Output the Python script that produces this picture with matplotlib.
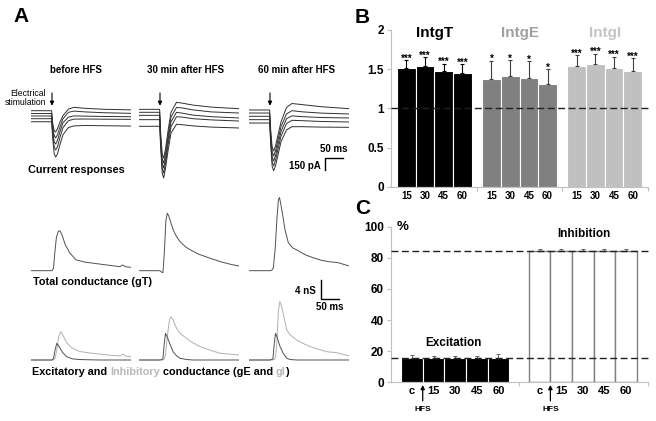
import numpy as np
import matplotlib.pyplot as plt

plt.rcParams['font.family'] = ['Liberation Sans', 'DejaVu Sans']
plt.rcParams['font.weight'] = 'bold'

# ---------------- panel A: traces ----------------
col_titles = ['before HFS', '30 min after HFS', '60 min after HFS']

# current responses, pA, five holding levels per condition
t_cur = [-57, -1, 2, 6, 10, 15, 22, 30, 45, 60, 90, 140, 216]   # ms from stimulation
cur_before = [
    [0, 0, -160, -250, -266, -225, -140, -60, 20, 42, 30, 18, 10],
    [-35, -35, -200, -310, -340, -300, -200, -100, -20, -5, -15, -25, -33],
    [-66, -66, -250, -390, -416, -370, -260, -150, -80, -65, -68, -72, -75],
    [-100, -100, -300, -460, -491, -450, -330, -210, -125, -105, -104, -106, -108],
    [-138, -138, -350, -540, -579, -540, -420, -300, -210, -190, -185, -188, -192],
]
cur_30 = [
    [17, 17, -300, -540, -591, -480, -250, -20, 105, 95, 70, 45, 25],
    [-20, -20, -340, -600, -654, -540, -310, -80, 40, 35, 10, -15, -29],
    [-58, -58, -380, -660, -716, -600, -370, -140, -20, -30, -55, -75, -91],
    [-112, -112, -420, -720, -779, -660, -430, -200, -75, -80, -100, -115, -129],
    [-195, -195, -470, -780, -841, -720, -500, -280, -170, -175, -190, -205, -216],
]
cur_60 = [
    [9, 9, -250, -460, -504, -440, -300, -140, 40, 90, 75, 50, 25],
    [-29, -29, -300, -520, -566, -500, -360, -200, -40, 0, -15, -30, -41],
    [-70, -70, -340, -580, -629, -560, -420, -260, -100, -65, -75, -85, -91],
    [-112, -112, -380, -640, -691, -620, -480, -320, -160, -120, -125, -135, -141],
    [-154, -154, -420, -700, -750, -690, -550, -390, -240, -200, -200, -205, -208],
]

# total conductance, nS
t_gT_before = [-57, 0, 4, 8, 12, 17, 22, 28, 36, 48, 65, 90, 130, 170, 185, 193, 200, 216]
gT_before = [0, 0, 0.5, 4.0, 7.0, 8.3, 8.4, 7.4, 5.5, 3.8, 2.3, 1.8, 1.4, 1.0, 0.85, 1.2, 0.85, 0.7]
t_gT_30 = [-57, 0, 4, 8, 12, 16, 20, 24, 30, 36, 45, 55, 70, 85, 105, 130, 165, 195, 216]
gT_30 = [0, 0, -0.3, -0.4, 4.0, 10.5, 12.1, 11.5, 10.0, 8.6, 7.2, 6.1, 5.0, 4.3, 3.5, 2.8, 1.9, 1.3, 1.0]
t_gT_60 = [-57, 0, 5, 9, 14, 19, 23, 26, 29, 33, 41, 50, 62, 75, 95, 115, 140, 160, 185, 216]
gT_60 = [0, 0, 0.1, 0.5, 4.5, 11.0, 15.0, 15.4, 14.2, 12.5, 8.6, 5.9, 4.8, 4.3, 3.4, 2.8, 2.2, 1.9, 1.7, 1.0]

# excitatory / inhibitory conductance, nS
t_ei_before = [-57, 0, 4, 8, 13, 18, 24, 30, 40, 55, 75, 100, 130, 160, 186, 194, 202, 216]
gE_before = [0, 0, 0.3, 2.0, 3.5, 3.0, 2.2, 1.5, 0.7, 0.25, 0.1, 0.05, 0, 0, 0, 0, 0, 0]
gI_before = [0, 0, 0, 0.3, 2.0, 4.8, 6.0, 5.2, 3.6, 2.5, 1.8, 1.5, 1.25, 1.0, 0.85, 1.25, 0.8, 0.7]
t_ei_30 = [-57, 0, 8, 11, 15, 20, 26, 30, 36, 45, 55, 73, 90, 110, 135, 165, 195, 216]
gE_30 = [0, 0, 0.2, 3.0, 5.6, 4.8, 3.6, 2.8, 1.7, 0.9, 0.35, 0.1, 0, 0, 0, 0, 0, 0]
gI_30 = [0, 0, 0, 0.2, 1.0, 5.0, 8.5, 9.1, 8.4, 6.7, 5.6, 4.5, 3.6, 2.8, 2.1, 1.4, 1.2, 1.05]
t_ei_60 = [-57, 0, 8, 11, 15, 19, 23, 27, 32, 36, 46, 55, 73, 90, 110, 135, 155, 185, 216]
gE_60 = [0, 0, 0.2, 3.0, 5.6, 4.9, 3.9, 2.9, 2.1, 1.4, 0.35, 0.1, 0, 0, 0, 0, 0, 0, 0]
gI_60 = [0, 0, 0, 0.1, 0.5, 4.0, 10.5, 12.3, 11.2, 9.8, 6.3, 5.3, 4.2, 3.5, 2.8, 2.2, 1.75, 1.5, 0.85]

# ---------------- panel B ----------------
groups = ['IntgT', 'IntgE', 'IntgI']
times_b = ['15', '30', '45', '60']
intg_T = [1.51, 1.54, 1.48, 1.45]
intg_E = [1.38, 1.41, 1.39, 1.31]
intg_I = [1.54, 1.57, 1.51, 1.48]
err_T = [0.11, 0.11, 0.09, 0.11]
err_E = [0.23, 0.21, 0.21, 0.19]
err_I = [0.14, 0.13, 0.15, 0.16]
stars = ['***', '*', '***']

# ---------------- panel C ----------------
conds = ['c', '15', '30', '45', '60']
excitation = [15.9, 15.6, 15.6, 15.5, 15.9]
inhibition = [84.1, 84.4, 84.4, 84.5, 84.1]
err_exc = [1.8, 1.3, 1.3, 1.4, 2.2]
err_inh = [1.6, 1.3, 1.3, 1.4, 1.6]

W, H = 656, 421
fig = plt.figure(figsize=(W / 100, H / 100), dpi=100)


def px_axes(x0, y0, x1, y1):
    return fig.add_axes([x0 / W, 1 - y1 / H, (x1 - x0) / W, (y1 - y0) / H])


def ftext(x, y, s, **kw):
    return fig.text(x / W, 1 - y / H, s, **kw)


MS_PX = 2.73
stim_px = [52, 160, 270]
title_px = [76, 186, 297]


def trace_axes(sx, y0, y1, ylim):
    ax = px_axes(sx - 57 / MS_PX, y0, sx + 216 / MS_PX, y1)
    ax.set_xlim(-57, 216)
    ax.set_ylim(*ylim)
    ax.axis('off')
    return ax


cur_sets = [cur_before, cur_30, cur_60]
gT_sets = [(t_gT_before, gT_before), (t_gT_30, gT_30), (t_gT_60, gT_60)]
ei_sets = [(t_ei_before, gE_before, gI_before), (t_ei_30, gE_30, gI_30),
           (t_ei_60, gE_60, gI_60)]

for k in range(3):
    sx = stim_px[k]
    ftext(title_px[k], 70, col_titles[k], ha='center', va='center', fontsize=7)

    ax = trace_axes(sx, 90, 185, (-928.75, 258.75))
    for tr in cur_sets[k]:
        ax.plot(t_cur, tr, color='#303030', lw=0.7)
    ax.annotate('', xy=(0, 62), xytext=(0, 222),
                arrowprops=dict(arrowstyle='-|>', color='black', lw=0.8,
                                mutation_scale=6, shrinkA=0, shrinkB=0))
    if k == 2:
        ax.plot([150, 150, 200], [-741, -591, -591], color='black', lw=1.0,
                clip_on=False)
        ax.annotate('50 ms', xy=(175, -591), xytext=(0, 3), textcoords='offset points',
                    ha='center', va='bottom', fontsize=7)
        ax.annotate('150 pA', xy=(150, -690), xytext=(-3, 0), textcoords='offset points',
                    ha='right', va='center', fontsize=7)

    ax = trace_axes(sx, 190, 280, (-1.958, 16.99))
    ax.plot(gT_sets[k][0], gT_sets[k][1], color='#505050', lw=0.7)

    ax = trace_axes(sx, 275, 365, (-1.053, 17.89))
    t_ei, gE, gI = ei_sets[k]
    ax.plot(t_ei, gI, color='#b0b0b0', lw=0.7)
    ax.plot(t_ei, gE, color='#505050', lw=0.7)
    if k == 2:
        ax.plot([139, 139, 189], [16.84, 12.84, 12.84], color='black', lw=1.0,
                clip_on=False)
        ax.annotate('4 nS', xy=(139, 14.5), xytext=(-4, 0), textcoords='offset points',
                    ha='right', va='center', fontsize=7)
        ax.annotate('50 ms', xy=(164, 12.84), xytext=(0, -2), textcoords='offset points',
                    ha='center', va='top', fontsize=7)

ftext(46, 98, 'Electrical\nstimulation', ha='right', va='center', fontsize=6.2,
      fontweight='normal', linespacing=1.0)
ftext(28, 170, 'Current responses', va='center', fontsize=7.8)
ftext(33, 282, 'Total conductance (gT)', va='center', fontsize=7.8)

renderer = fig.canvas.get_renderer()


def text_width(s, **kw):
    t = fig.text(0, 0, s + '|', **kw)
    w = t.get_window_extent(renderer).width
    t.remove()
    return w


parts = [('Excitatory and ', 'black'), ('Inhibitory', '#b8b8b8'),
         (' conductance (gE and ', 'black'), ('gI', '#b8b8b8'), (')', 'black')]
bar_w = text_width('', fontsize=7.8)
prefix = ''
for s, c in parts:
    off = text_width(prefix, fontsize=7.8) - bar_w if prefix else 0
    ftext(32 + off, 372, s, va='center', fontsize=7.8, color=c)
    prefix += s

# panel letters
ftext(13, 17, 'A', va='center', fontsize=15)
ftext(355, 17.5, 'B', va='center', fontsize=15)
ftext(355, 208.5, 'C', va='center', fontsize=15)


def style_axis(ax):
    for side in ['top', 'right']:
        ax.spines[side].set_visible(False)
    for side in ['left', 'bottom']:
        ax.spines[side].set_color('#c0c0c0')
        ax.spines[side].set_linewidth(0.8)
    ax.tick_params(axis='y', direction='out', length=3, width=0.8, color='#c0c0c0',
                   labelsize=8.5, pad=2)
    ax.tick_params(axis='x', which='major', length=0, pad=3)
    ax.tick_params(axis='x', which='minor', direction='out', length=3, width=0.8,
                   color='#c0c0c0')
    ax.patch.set_alpha(0)


# ---------------- panel B ----------------
axB = px_axes(391, 30, 648, 186.7)
style_axis(axB)
axB.set_ylim(0, 2)
axB.set_xlim(-0.82, 12.92)
vals_b = [intg_T, intg_E, intg_I]
errs_b = [err_T, err_E, err_I]
bar_cols = ['black', '#808080', '#c0c0c0']
title_cols = ['black', '#a0a0a0', '#c4c4c4']
err_cols = ['black', '#404040', '#404040']
xt, xl = [], []
for g in range(3):
    x = np.arange(4) + g * 4.55
    axB.bar(x, vals_b[g], width=1.0, color=bar_cols[g], edgecolor='white', lw=0.8)
    axB.errorbar(x, vals_b[g], yerr=[np.zeros(4), errs_b[g]], fmt='none',
                 ecolor=err_cols[g], elinewidth=0.8, capsize=1.5, capthick=0.8)
    for xi, v, e in zip(x, vals_b[g], errs_b[g]):
        axB.annotate(stars[g], xy=(xi, v + e), xytext=(0, 1), textcoords='offset points',
                     ha='center', va='center', fontsize=7)
    axB.text(x.mean(), 1.96, groups[g], ha='center', va='center', fontsize=11,
             color=title_cols[g])
    xt += list(x)
    xl += times_b
axB.axhline(1, color='#202020', lw=1.0, ls=(0, (5, 2.5)), zorder=5, clip_on=False)
axB.set_xticks(xt, xl, fontsize=7)
axB.set_xticks([3.775, 8.325, 12.92], minor=True)
axB.set_yticks([0, 0.5, 1, 1.5, 2], ['0', '0.5', '1', '1.5', '2'])

# ---------------- panel C ----------------
axC = px_axes(391, 226.7, 648, 382.3)
style_axis(axC)
axC.set_ylim(0, 100)
axC.set_xlim(-0.965, 10.91)
x_exc = np.arange(5)
x_inh = np.arange(5) + 5.9
axC.bar(x_exc, excitation, width=1.0, color='black', edgecolor='white', lw=0.8)
axC.bar(x_inh, inhibition, width=1.0, color='white', edgecolor='#808080', lw=1.0)
axC.errorbar(x_exc, excitation, yerr=[np.zeros(5), err_exc], fmt='none',
             ecolor='#606060', elinewidth=0.7, capsize=1.5, capthick=0.7)
axC.errorbar(x_inh, inhibition, yerr=[np.zeros(5), err_inh], fmt='none',
             ecolor='#606060', elinewidth=0.7, capsize=1.5, capthick=0.7)
axC.axhline(excitation[0], color='#202020', lw=1.0, ls=(0, (5, 2.5)), zorder=5,
            clip_on=False)
axC.axhline(inhibition[0], color='#202020', lw=1.0, ls=(0, (5, 2.5)), zorder=5,
            clip_on=False)
axC.set_xticks(list(x_exc) + list(x_inh), conds + conds, fontsize=8)
axC.set_xticks([4.95, 10.91], minor=True)
axC.set_yticks([0, 20, 40, 60, 80, 100])
for xa in [x_exc[0] + 0.5, x_inh[0] + 0.5]:
    axC.annotate('', xy=(xa, -0.017), xytext=(xa, -0.12),
                 xycoords=('data', 'axes fraction'), textcoords=('data', 'axes fraction'),
                 arrowprops=dict(arrowstyle='-|>', color='black', lw=0.9,
                                 mutation_scale=6, shrinkA=0, shrinkB=0))
    axC.text(xa, -0.172, 'HFS', transform=axC.get_xaxis_transform(), ha='center',
             va='center', fontsize=6)
axC.text(x_exc.mean() - 0.08, 25.3, 'Excitation', ha='center', va='center', fontsize=8.5)
axC.text(x_inh.mean() + 0.06, 95.3, 'Inhibition', ha='center', va='center', fontsize=8.5)
axC.text(-0.41, 99.8, '%', ha='center', va='center', fontsize=9.5)

fig.savefig('out.png', dpi=100)
